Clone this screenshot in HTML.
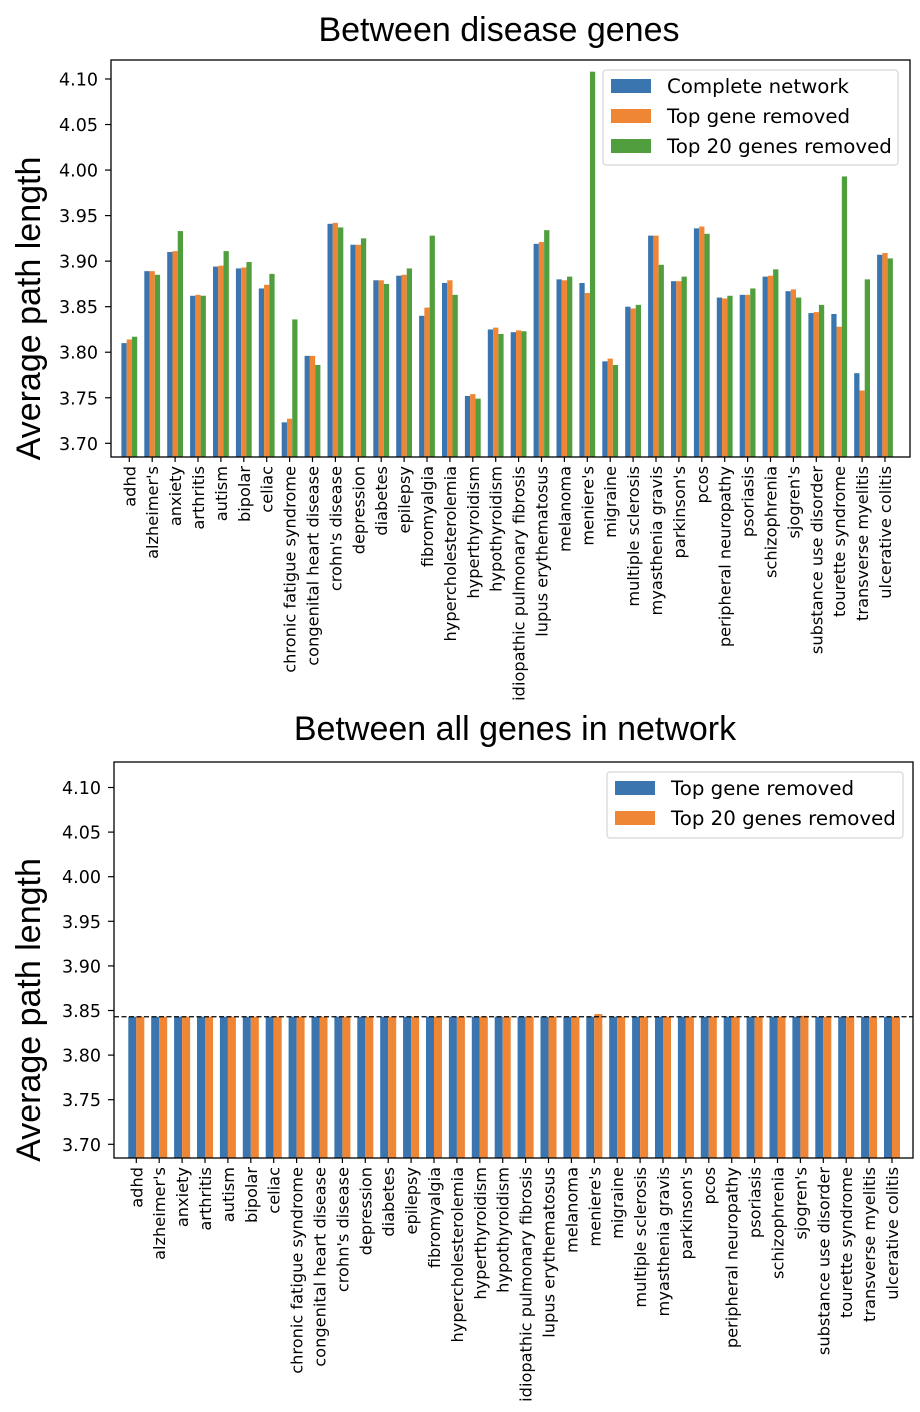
<!DOCTYPE html>
<html><head><meta charset="utf-8">
<style>
html,body{margin:0;padding:0;background:#fff;}
svg{display:block;}
.tick{font-family:"DejaVu Sans","Liberation Sans",sans-serif;font-size:17.5px;fill:#000;}
.xl{font-family:"DejaVu Sans","Liberation Sans",sans-serif;font-size:16.2px;fill:#000;}
.ttl{font-family:"Liberation Sans",Arial,sans-serif;font-size:34px;fill:#000;}
.yt{font-family:"Liberation Sans",Arial,sans-serif;font-size:34px;fill:#000;}
.lg{font-family:"DejaVu Sans","Liberation Sans",sans-serif;font-size:19.8px;fill:#000;}
</style></head>
<body>
<svg id="chart" width="920" height="1412" xmlns="http://www.w3.org/2000/svg">
<rect width="920" height="1412" fill="#fff"/>
</svg>
<script>
const categories = ["adhd","alzheimer's","anxiety","arthritis","autism","bipolar","celiac","chronic fatigue syndrome","congenital heart disease","crohn's disease","depression","diabetes","epilepsy","fibromyalgia","hypercholesterolemia","hyperthyroidism","hypothyroidism","idiopathic pulmonary fibrosis","lupus erythematosus","melanoma","meniere's","migraine","multiple sclerosis","myasthenia gravis","parkinson's","pcos","peripheral neuropathy","psoriasis","schizophrenia","sjogren's","substance use disorder","tourette syndrome","transverse myelitis","ulcerative colitis"];
const completeNetwork = [3.810,3.889,3.910,3.862,3.894,3.892,3.870,3.723,3.796,3.941,3.918,3.879,3.884,3.840,3.876,3.752,3.825,3.822,3.919,3.880,3.876,3.790,3.850,3.928,3.878,3.936,3.860,3.863,3.883,3.867,3.843,3.842,3.777,3.907];
const topGeneRemoved = [3.814,3.889,3.911,3.863,3.895,3.893,3.874,3.727,3.796,3.942,3.918,3.879,3.885,3.849,3.879,3.754,3.827,3.824,3.921,3.879,3.865,3.793,3.848,3.928,3.878,3.938,3.859,3.863,3.884,3.869,3.844,3.828,3.758,3.909];
const top20Removed = [3.817,3.885,3.933,3.862,3.911,3.899,3.886,3.836,3.786,3.937,3.925,3.875,3.892,3.928,3.863,3.749,3.820,3.823,3.934,3.883,4.108,3.786,3.852,3.896,3.883,3.930,3.862,3.870,3.891,3.860,3.852,3.993,3.880,3.903];
const allTopGeneRemoved = [3.843,3.843,3.843,3.843,3.843,3.843,3.843,3.843,3.843,3.843,3.843,3.843,3.843,3.843,3.843,3.843,3.843,3.843,3.843,3.843,3.843,3.843,3.843,3.843,3.843,3.843,3.843,3.843,3.843,3.843,3.843,3.843,3.843,3.843];
const allTop20Removed = [3.843,3.843,3.843,3.843,3.843,3.843,3.843,3.843,3.843,3.843,3.843,3.843,3.843,3.843,3.843,3.843,3.843,3.843,3.843,3.843,3.846,3.843,3.843,3.843,3.843,3.843,3.843,3.843,3.843,3.844,3.843,3.843,3.843,3.843];
const baselineValue = [3.843];
const yTicks = [3.70,3.75,3.80,3.85,3.90,3.95,4.00,4.05,4.10];

const NS="http://www.w3.org/2000/svg";
const svg=document.getElementById('chart');
function mk(tag,attrs,parent){const e=document.createElementNS(NS,tag);for(const k in attrs)e.setAttribute(k,attrs[k]);(parent||svg).appendChild(e);return e;}
const COL={b:"#3a75b0",o:"#ef8636",g:"#519e3e"};

function panel(cfg){
  const g=mk('g',{});
  
  
  const yS=v=>cfg.y370+(3.70-v)/0.05*cfg.step;
  const xS=i=>cfg.x0+i*cfg.dx;
  cfg.series.forEach((s,si)=>{
    s.data.forEach((v,i)=>{
      const cx=xS(i)+(s.off)*cfg.dx;
      const y=yS(v);
      const r=mk('rect',{x:(cx-cfg.bw*cfg.dx/2).toFixed(2),y:y.toFixed(2),width:(cfg.bw*cfg.dx).toFixed(2),height:(cfg.bottom-y).toFixed(2),fill:s.color},g);
      
      
    });
  });
  if(cfg.baseline){
    const y=yS(baselineValue[0]);
    const l=mk('line',{x1:cfg.left,x2:cfg.right,y1:y,y2:y,stroke:"#000","stroke-width":1.3,"stroke-dasharray":"5,2.5"},g);
    
    
  }
  const fr=mk('rect',{x:cfg.left,y:cfg.top,width:cfg.right-cfg.left,height:cfg.bottom-cfg.top,fill:"none",stroke:"#000","stroke-width":1.3},g);
  
  
  yTicks.forEach(t=>{
    const y=yS(t);
    mk('line',{x1:cfg.left-6,x2:cfg.left,y1:y,y2:y,stroke:"#000","stroke-width":1.2},g);
    const tx=mk('text',{x:cfg.left-13,y:y+6.5,'text-anchor':'end',class:'tick'},g);
    tx.textContent=t.toFixed(2);
    
    
  });
  categories.forEach((c,i)=>{
    const x=xS(i);
    mk('line',{x1:x,x2:x,y1:cfg.bottom,y2:cfg.bottom+5,stroke:"#000","stroke-width":1.2},g);
    const tx=mk('text',{x:0,y:0,'text-anchor':'end',class:'xl',transform:`translate(${x+6},${cfg.bottom+9}) rotate(-90)`},g);
    tx.textContent=c;
    
    
  });
  const yt=mk('text',{x:0,y:0,'text-anchor':'middle',class:'yt',transform:`translate(40,${(cfg.top+cfg.bottom)/2+50}) rotate(-90)`},g);
  yt.textContent="Average path length";
  
  
  const tt=mk('text',{x:cfg.titleX,y:cfg.titleY,'text-anchor':'middle',class:'ttl'},g);
  tt.textContent=cfg.title;
  
  
  const L=cfg.legend;
  const lg=mk('g',{},g);
  
  
  mk('rect',{x:L.x,y:L.y,width:L.w,height:L.h,rx:3,fill:"#fff","fill-opacity":0.8,stroke:"#d6d6d6","stroke-width":1.2},lg);
  cfg.series.forEach((s,k)=>{
    const ey=L.y+9+k*30;
    const sw=mk('rect',{x:L.x+8,y:ey,width:40,height:14,fill:s.color},lg);
    
    
    const t=mk('text',{x:L.x+64,y:ey+14,class:'lg'},lg);
    t.textContent=s.label;
    
    
  });
}

panel({name:'disease-genes-chart',left:111,right:910,top:60,bottom:457,y370:443.3,step:45.54,x0:129.3,dx:22.9,bw:0.23,
  title:"Between disease genes",titleX:499,titleY:41,
  legend:{x:603,y:70,w:295,h:95},
  series:[{key:'complete',label:'Complete network',data:completeNetwork,color:COL.b,off:-0.23},
          {key:'top-gene',label:'Top gene removed',data:topGeneRemoved,color:COL.o,off:0},
          {key:'top20',label:'Top 20 genes removed',data:top20Removed,color:COL.g,off:0.23}]});

panel({name:'all-genes-chart',left:114,right:913,top:762,bottom:1158,y370:1144.3,step:44.6,x0:136.3,dx:22.9,bw:0.35,baseline:true,
  title:"Between all genes in network",titleX:515,titleY:740,
  legend:{x:607,y:772,w:296,h:66},
  series:[{key:'top-gene',label:'Top gene removed',data:allTopGeneRemoved,color:COL.b,off:-0.175},
          {key:'top20',label:'Top 20 genes removed',data:allTop20Removed,color:COL.o,off:0.175}]});
</script>
</body></html>
